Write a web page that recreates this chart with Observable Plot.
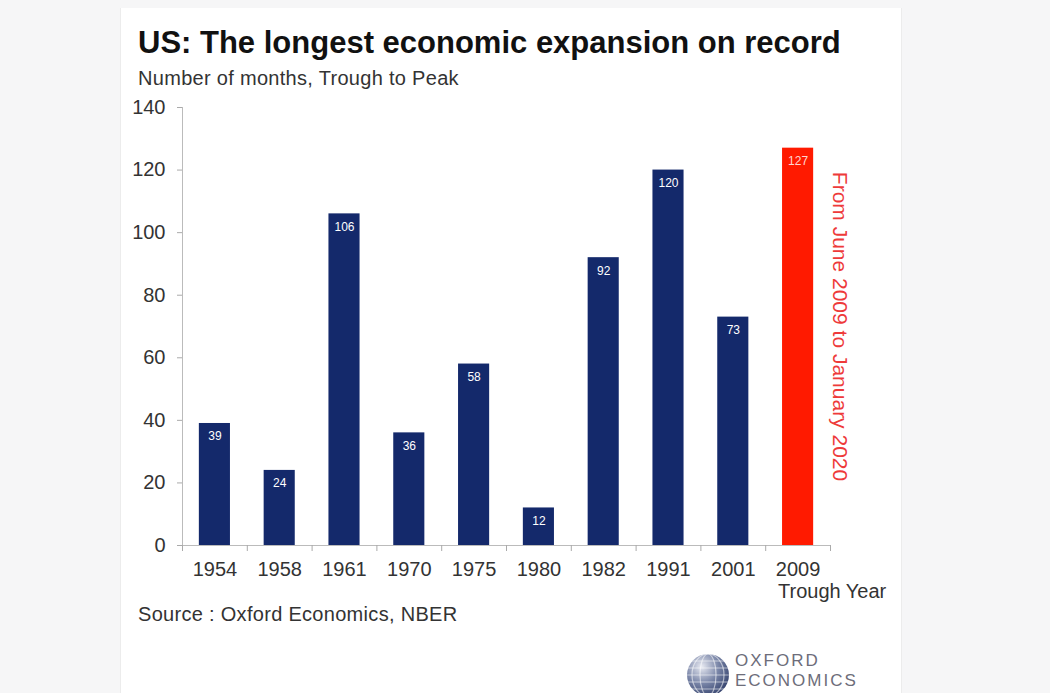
<!DOCTYPE html>
<html>
<head>
<meta charset="utf-8">
<script src="https://cdn.jsdelivr.net/npm/d3@7"></script>
<script src="https://cdn.jsdelivr.net/npm/@observablehq/plot@0.6"></script>
<style>
  html, body { margin: 0; padding: 0; }
  body { width: 1050px; height: 693px; background: #f6f6f7; position: relative; overflow: hidden; font-family: "Liberation Sans", Arial, sans-serif; }
  #panel { position: absolute; left: 120px; top: 8px; width: 780px; height: 700px; background: #ffffff; border-left: 1px solid #ececec; border-right: 1px solid #ececec; }
  #title { position: absolute; left: 138px; top: 25px; font-size: 31px; font-weight: bold; color: #111; white-space: nowrap; }
  #subtitle { position: absolute; left: 138px; top: 67px; font-size: 20px; color: #333; white-space: nowrap; letter-spacing: 0.3px; }
  #chart { position: absolute; left: 120px; top: 95px; }
  #xlabel { position: absolute; left: 778px; top: 580px; font-size: 20px; color: #333; white-space: nowrap; }
  #source { position: absolute; left: 138px; top: 603px; font-size: 20px; color: #333; white-space: nowrap; letter-spacing: 0.3px; }
  #logo { position: absolute; left: 683px; top: 650px; }
  #logotext { position: absolute; left: 735px; top: 651px; font-size: 17px; color: #6d6d7a; letter-spacing: 2px; line-height: 20px; }
</style>
</head>
<body>
<div id="panel"></div>
<div id="title">US: The longest economic expansion on record</div>
<div id="subtitle">Number of months, Trough to Peak</div>
<div id="chart"></div>
<div id="xlabel">Trough Year</div>
<div id="source">Source : Oxford Economics, NBER</div>
<svg id="logo" width="50" height="50" viewBox="0 0 50 50">
  <defs>
    <radialGradient id="g" cx="0.35" cy="0.3" r="0.8">
      <stop offset="0" stop-color="#e8eaf2"/>
      <stop offset="0.5" stop-color="#7a86a8"/>
      <stop offset="1" stop-color="#2c3a66"/>
    </radialGradient>
  </defs>
  <circle cx="25" cy="25" r="21" fill="url(#g)"/>
  <g stroke="#ffffff" stroke-opacity="0.55" stroke-width="1.2" fill="none">
    <ellipse cx="25" cy="25" rx="8" ry="21"/>
    <ellipse cx="25" cy="25" rx="16" ry="21"/>
    <line x1="4" y1="18" x2="46" y2="18"/>
    <line x1="4" y1="25" x2="46" y2="25"/>
    <line x1="5" y1="32" x2="45" y2="32"/>
    <line x1="8" y1="39" x2="42" y2="39"/>
    <line x1="8" y1="11" x2="42" y2="11"/>
  </g>
</svg>
<div id="logotext">OXFORD<br>ECONOMICS</div>
<script>
const years = ["1954", "1958", "1961", "1970", "1975", "1980", "1982", "1991", "2001", "2009"];
const months = [39, 24, 106, 36, 58, 12, 92, 120, 73, 127];
const highlight = ["2009"];
const yTicks = [0, 20, 40, 60, 80, 100, 120, 140];
const note = "From June 2009 to January 2020";

const data = years.map((y, i) => ({year: y, months: months[i], hi: highlight.includes(y)}));

const chart = Plot.plot({
  width: 780,
  height: 505,
  marginLeft: 62,
  marginRight: 70,
  marginTop: 12,
  marginBottom: 55,
  style: {fontFamily: "'Liberation Sans', Arial, sans-serif", background: "transparent", color: "#333"},
  x: {domain: years, paddingInner: 0.52, paddingOuter: 0.26, round: false, label: null},
  y: {domain: [0, 140], label: null},
  marks: [
    Plot.barY(data, {x: "year", y: "months", fill: d => d.hi ? "#ff1a00" : "#14296b"}),
    Plot.text(data, {x: "year", y: "months", text: d => String(d.months), dy: 13, fill: d => d.hi ? "#ffd6d0" : "#ffffff", fontSize: 12}),
    Plot.frame({anchor: "left", stroke: "#bbbbbb"}),
    Plot.axisY({ticks: yTicks, tickSize: 5, tickPadding: 12, fontSize: 20, stroke: "#aaaaaa", fill: "#333"}),
    Plot.ruleY([0], {stroke: "#bbbbbb"}),
    Plot.axisX({tickSize: 0, tickPadding: 16, fontSize: 20, fill: "#333"}),
    Plot.axisX({tickSize: 6, text: null, dx: -32.4, stroke: "#aaaaaa"}),
    Plot.axisX({ticks: [years[years.length - 1]], tickSize: 6, text: null, dx: 32.4, stroke: "#aaaaaa"}),
    Plot.text([note], {frameAnchor: "right", rotate: 90, dx: 9, textAnchor: "middle", text: d => d, fill: "#ee3a3a", fontSize: 21})
  ]
});
document.getElementById("chart").appendChild(chart);
</script>
</body>
</html>
